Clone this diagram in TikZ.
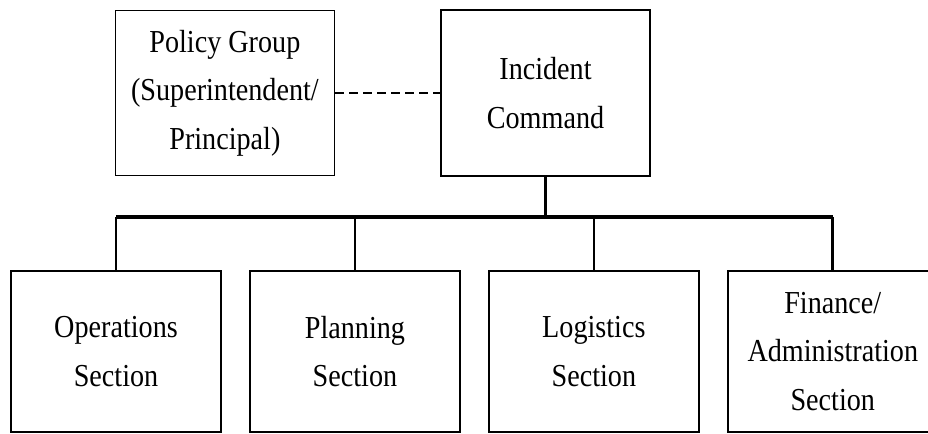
\documentclass[tikz,border=0pt]{standalone}
\usepackage{fontspec}
\setmainfont{Liberation Serif}[FakeStretch=0.88]
\usepackage{tikz}
\usetikzlibrary{calc,positioning}
\tikzset{
unit_box/.style={rectangle, draw, line width=1.2pt, align=center, text=black, font=\fontsize{24}{36.5}\selectfont},
top_box/.style={unit_box, minimum width=156.75pt, minimum height=124.5pt},
section_box/.style={unit_box, minimum width=157.5pt, minimum height=120.75pt},
bus/.style={line width=3pt},
drop/.style={line width=2pt},
liaison/.style={line width=1.5pt, dash pattern=on 6.75pt off 3.75pt}
}

\begin{document}
\begin{tikzpicture}[x=0.75pt, y=-0.75pt]
    \useasboundingbox (0,0) rectangle (928,434);
    \node[top_box] (command) at (545.5,93) {Incident\\Command};
    \node[top_box, minimum width=164.25pt, minimum height=123.75pt] (policy) [left=78.75pt of command] {Policy Group\\(Superintendent/\\Principal)};
    \node[section_box] (ops) at (116,351.5) {Operations\\Section};
    \node[section_box] (planning) [right=20.5pt of ops] {Planning\\Section};
    \node[section_box] (logistics) [right=20.5pt of planning] {Logistics\\Section};
    \node[section_box] (finance) [right=20.5pt of logistics] {Finance/\\Administration\\Section};
    \coordinate (hub) at (545.5,217);
    \draw[liaison] (policy.east) -- (policy.east -| command.west);
    \draw[drop] (command.south) -- (hub);
    \draw[bus] (ops.north |- hub) -- (finance.north |- hub);
    \foreach \sec in {ops,planning,logistics,finance}
        \draw[drop] (\sec.north) -- (\sec.north |- hub);
\end{tikzpicture}
\end{document}
